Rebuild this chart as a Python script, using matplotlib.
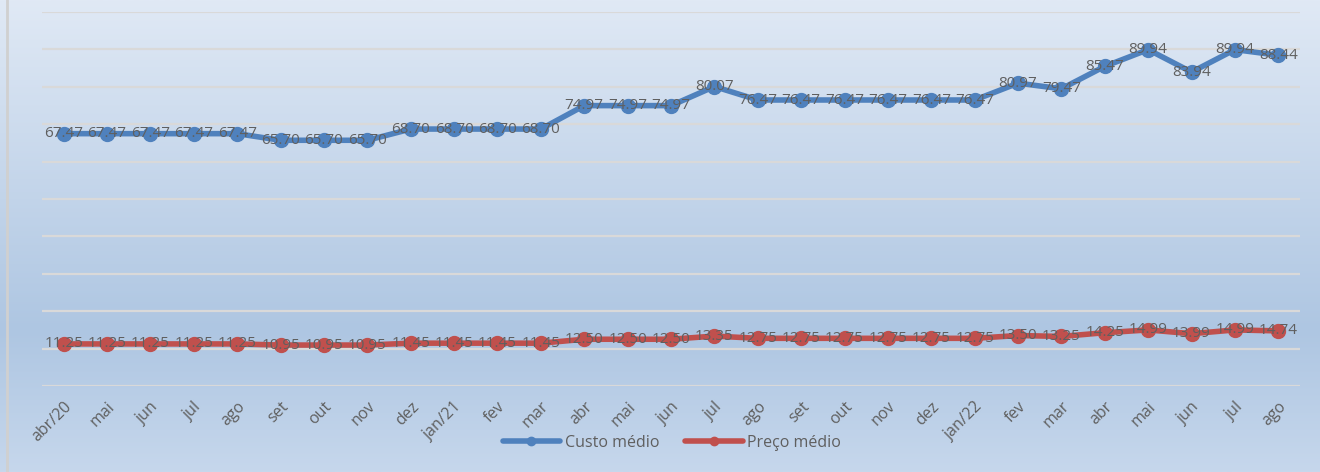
import numpy as np
import matplotlib
matplotlib.use("Agg")
import matplotlib.pyplot as plt
from matplotlib.colors import LinearSegmentedColormap

# Month labels (abr/20 .. ago/22)
months = ["abr/20", "mai", "jun", "jul", "ago", "set", "out", "nov", "dez",
          "jan/21", "fev", "mar", "abr", "mai", "jun", "jul", "ago", "set",
          "out", "nov", "dez", "jan/22", "fev", "mar", "abr", "mai", "jun",
          "jul", "ago"]

custo_medio = [67.47, 67.47, 67.47, 67.47, 67.47, 65.70, 65.70, 65.70, 68.70,
               68.70, 68.70, 68.70, 74.97, 74.97, 74.97, 80.07, 76.47, 76.47,
               76.47, 76.47, 76.47, 76.47, 80.97, 79.47, 85.47, 89.94, 83.94,
               89.94, 88.44]

preco_medio = [11.25, 11.25, 11.25, 11.25, 11.25, 10.95, 10.95, 10.95, 11.45,
               11.45, 11.45, 11.45, 12.50, 12.50, 12.50, 13.35, 12.75, 12.75,
               12.75, 12.75, 12.75, 12.75, 13.50, 13.25, 14.25, 14.99, 13.99,
               14.99, 14.74]

blue = "#4f81bd"
red = "#c0504d"
text_grey = "#5f5f5f"
font = "Open Sans"

fig = plt.figure(figsize=(13.2, 4.72), dpi=100)

# Background gradient over the whole figure
bg = fig.add_axes([0, 0, 1, 1], zorder=-10)
cmap = LinearSegmentedColormap.from_list(
    "bg", [(0.0, "#c6d7ec"), (0.3, "#aec6e2"), (1.0, "#e0e9f5")])
grad = np.linspace(0, 1, 256).reshape(-1, 1)
bg.imshow(grad, aspect="auto", cmap=cmap, origin="lower", extent=[0, 1, 0, 1])
bg.plot([0.005, 0.005], [0, 1], color="#d0d0d0", lw=2)
bg.set_xlim(0, 1)
bg.set_ylim(0, 1)
bg.axis("off")

ax = fig.add_axes([42 / 1320, (472 - 386) / 472, 1258 / 1320, 374 / 472])
ax.patch.set_alpha(0)
x = np.arange(len(months))

ax.plot(x, custo_medio, color=blue, lw=4, marker="o", ms=10,
        label="Custo médio", zorder=3, solid_capstyle="round")
ax.plot(x, preco_medio, color=red, lw=4, marker="o", ms=10,
        label="Preço médio", zorder=3, solid_capstyle="round")

# Data labels
for xi, v in zip(x, custo_medio):
    ax.text(xi, v, f"{v:.2f}", ha="center", va="center", fontsize=11,
            color=text_grey, family=font, zorder=4)
for xi, v in zip(x, preco_medio):
    ax.text(xi, v, f"{v:.2f}", ha="center", va="center", fontsize=11,
            color=text_grey, family=font, zorder=4)

ax.set_xlim(-0.5, len(months) - 0.5)
ax.set_ylim(0, 100)
ax.set_yticks(np.arange(0, 101, 10))
ax.yaxis.grid(True, color="#d9d9d9", lw=1.6)
ax.set_axisbelow(True)
ax.tick_params(axis="y", left=False, labelleft=False)
ax.tick_params(axis="x", length=0, pad=9)
ax.set_xticks(x)
ax.set_xticklabels(months, rotation=45, ha="right", rotation_mode="anchor",
                   fontsize=11.5, color=text_grey, family=font)
for s in ax.spines.values():
    s.set_visible(False)

leg = fig.legend(loc="center", bbox_to_anchor=(672 / 1320, 1 - 443 / 472),
                 ncol=2, frameon=False, handlelength=3.6, handletextpad=0.3,
                 columnspacing=1.6, prop={"family": font, "size": 11.5})
for t in leg.get_texts():
    t.set_color(text_grey)
for h in leg.legend_handles:
    h.set_markersize(6)

fig.savefig("out.png", dpi=100)
